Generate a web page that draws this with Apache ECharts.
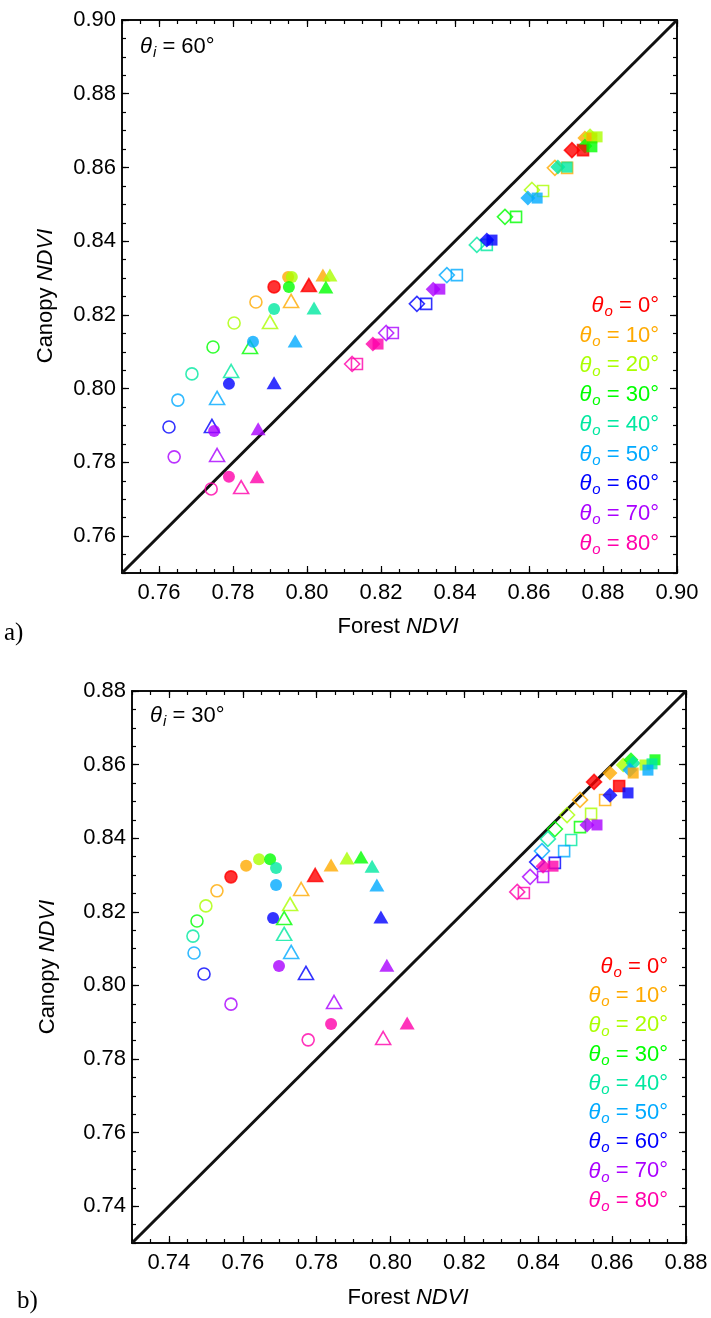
<!DOCTYPE html>
<html><head><meta charset="utf-8">
<script src="https://cdn.jsdelivr.net/npm/echarts@6/dist/echarts.min.js"></script>
<style>html,body{margin:0;padding:0;background:#fff}#c{width:711px;height:1318px}</style>
</head><body><div id="c"></div>
<script>
// ---------- data ----------
const angles = [0, 10, 20, 30, 40, 50, 60, 70, 80];
const colors = ['#ff0000', '#ffaa00', '#aaff00', '#00ff00', '#00e8a0', '#00aaff', '#0000ff', '#aa00ff', '#ff00aa'];
const ticksA = [0.76, 0.78, 0.80, 0.82, 0.84, 0.86, 0.88, 0.90];
const ticksB = [0.74, 0.76, 0.78, 0.80, 0.82, 0.84, 0.86, 0.88];
const rangeA = [0.75, 0.90];
const rangeB = [0.73, 0.88];

// panel a (theta_i = 60)
const aFilledCircleX = [0.7911, 0.7949, 0.7959, 0.7951, 0.7911, 0.7854, 0.7789, 0.7749, 0.7789];
const aFilledCircleY = [0.8276, 0.8303, 0.8303, 0.8276, 0.8216, 0.8127, 0.8013, 0.7885, 0.7761];
const aOpenCircleX   = [0.7911, 0.7862, 0.7803, 0.7746, 0.7689, 0.7651, 0.7627, 0.7641, 0.7741];
const aOpenCircleY   = [0.8276, 0.8235, 0.8178, 0.8113, 0.8040, 0.7969, 0.7896, 0.7815, 0.7728];
const aFilledTriX    = [0.8005, 0.8043, 0.8062, 0.8051, 0.8019, 0.7968, 0.7911, 0.7868, 0.7865];
const aFilledTriY    = [0.8281, 0.8308, 0.8308, 0.8276, 0.8219, 0.8129, 0.8016, 0.7891, 0.7761];
const aOpenTriX      = [0.8005, 0.7957, 0.7900, 0.7846, 0.7795, 0.7757, 0.7743, 0.7757, 0.7822];
const aOpenTriY      = [0.8281, 0.8238, 0.8181, 0.8113, 0.8048, 0.7975, 0.7899, 0.7820, 0.7733];
const aFilledDiaX    = [0.8716, 0.8751, 0.8765, 0.8751, 0.8678, 0.8597, 0.8486, 0.8341, 0.8178];
const aFilledDiaY    = [0.8647, 0.8680, 0.8686, 0.8658, 0.8601, 0.8517, 0.8403, 0.8270, 0.8121];
const aFilledSqX     = [0.8746, 0.8770, 0.8784, 0.8770, 0.8703, 0.8622, 0.8500, 0.8359, 0.8192];
const aFilledSqY     = [0.8647, 0.8680, 0.8683, 0.8656, 0.8601, 0.8517, 0.8403, 0.8270, 0.8121];
const aOpenDiaX      = [0.8716, 0.8670, 0.8608, 0.8535, 0.8459, 0.8378, 0.8297, 0.8214, 0.8122];
const aOpenDiaY      = [0.8647, 0.8599, 0.8539, 0.8466, 0.8390, 0.8308, 0.8230, 0.8151, 0.8067];
const aOpenSqX       = [0.8746, 0.8703, 0.8638, 0.8565, 0.8486, 0.8405, 0.8322, 0.8232, 0.8135];
const aOpenSqY       = [0.8647, 0.8599, 0.8536, 0.8466, 0.8390, 0.8308, 0.8230, 0.8151, 0.8067];

// panel b (theta_i = 30)
const bFilledCircleX = [0.7568, 0.7609, 0.7644, 0.7674, 0.7690, 0.7690, 0.7682, 0.7698, 0.7839];
const bFilledCircleY = [0.8295, 0.8325, 0.8343, 0.8343, 0.8319, 0.8273, 0.8183, 0.8053, 0.7895];
const bOpenCircleX   = [0.7568, 0.7530, 0.7500, 0.7476, 0.7465, 0.7468, 0.7495, 0.7568, 0.7777];
const bOpenCircleY   = [0.8295, 0.8257, 0.8216, 0.8175, 0.8134, 0.8088, 0.8031, 0.7949, 0.7852];
const bFilledTriX    = [0.7796, 0.7839, 0.7882, 0.7920, 0.7950, 0.7963, 0.7974, 0.7990, 0.8045];
const bFilledTriY    = [0.8300, 0.8327, 0.8346, 0.8349, 0.8324, 0.8273, 0.8186, 0.8055, 0.7898];
const bOpenTriX      = [0.7796, 0.7758, 0.7728, 0.7712, 0.7712, 0.7731, 0.7771, 0.7847, 0.7980];
const bOpenTriY      = [0.8300, 0.8262, 0.8221, 0.8183, 0.8140, 0.8091, 0.8034, 0.7955, 0.7857];
const bFilledDiaX    = [0.8551, 0.8594, 0.8630, 0.8651, 0.8657, 0.8648, 0.8594, 0.8532, 0.8413];
const bFilledDiaY    = [0.8553, 0.8577, 0.8599, 0.8613, 0.8604, 0.8585, 0.8517, 0.8436, 0.8324];
const bFilledSqX     = [0.8619, 0.8657, 0.8689, 0.8716, 0.8708, 0.8697, 0.8643, 0.8559, 0.8440];
const bFilledSqY     = [0.8542, 0.8577, 0.8599, 0.8613, 0.8602, 0.8585, 0.8523, 0.8436, 0.8324];
const bOpenDiaX      = [0.8551, 0.8513, 0.8478, 0.8445, 0.8426, 0.8410, 0.8397, 0.8378, 0.8343];
const bOpenDiaY      = [0.8553, 0.8504, 0.8463, 0.8425, 0.8398, 0.8365, 0.8335, 0.8295, 0.8254];
const bOpenSqX       = [0.8619, 0.8581, 0.8543, 0.8513, 0.8489, 0.8470, 0.8445, 0.8413, 0.8361];
const bOpenSqY       = [0.8542, 0.8504, 0.8466, 0.8430, 0.8395, 0.8365, 0.8333, 0.8295, 0.8251];

// ---------- build ----------
const FONT = '"Liberation Sans", Arial, sans-serif';
function minorVals(r) {
  const out = [];
  for (let v = r[0]; v <= r[1] + 1e-9; v += 0.005) out.push(Math.round(v * 1000) / 1000);
  return out;
}
function axis(kind, g, pos, major, ticks, r) {
  const vals = major ? ticks : minorVals(r);
  return {
    type: 'value', gridIndex: g, position: pos, min: r[0], max: r[1],
    axisLine: { show: true, onZero: false, lineStyle: { color: '#000', width: 1.5 } },
    axisTick: { show: true, inside: true, length: major ? 7 : 4, customValues: vals, lineStyle: { color: '#000', width: 1.2 } },
    axisLabel: {
      show: major && (pos === 'bottom' || pos === 'left'), customValues: ticks,
      formatter: v => v.toFixed(2), color: '#000', fontFamily: FONT, fontSize: 22,
      margin: kind === 'x' ? 9 : 6
    },
    splitLine: { show: false }
  };
}
const xAxes = [], yAxes = [];
[[ticksA, rangeA], [ticksB, rangeB]].forEach(([t, r], g) => {
  xAxes.push(axis('x', g, 'bottom', true, t, r), axis('x', g, 'bottom', false, t, r),
             axis('x', g, 'top', true, t, r), axis('x', g, 'top', false, t, r));
  yAxes.push(axis('y', g, 'left', true, t, r), axis('y', g, 'left', false, t, r),
             axis('y', g, 'right', true, t, r), axis('y', g, 'right', false, t, r));
});

function pts(xs, ys, filled) {
  return xs.map((x, i) => ({
    value: [x, ys[i]],
    itemStyle: filled ? { color: colors[i] }
                      : { color: 'rgba(255,255,255,0)', borderColor: colors[i], borderWidth: 1.6 }
  }));
}
const shapes = {
  circle: ['circle', 12], tri: ['triangle', [15, 13]], dia: ['diamond', 15], sq: ['rect', 11]
};
function sc(g, xs, ys, shape, filled) {
  return {
    type: 'scatter', xAxisIndex: g * 4, yAxisIndex: g * 4, silent: true,
    symbol: shapes[shape][0], symbolSize: shapes[shape][1],
    z: filled ? 4 : 3, data: pts(xs, ys, filled)
  };
}
function diag(g, r) {
  return {
    type: 'line', xAxisIndex: g * 4, yAxisIndex: g * 4, silent: true, showSymbol: false, z: 2,
    lineStyle: { color: '#111', width: 3 }, data: [[r[0], r[0]], [r[1], r[1]]]
  };
}
const series = [
  diag(0, rangeA), diag(1, rangeB),
  sc(0, aOpenCircleX, aOpenCircleY, 'circle', false), sc(0, aOpenTriX, aOpenTriY, 'tri', false),
  sc(0, aOpenDiaX, aOpenDiaY, 'dia', false), sc(0, aOpenSqX, aOpenSqY, 'sq', false),
  sc(0, aFilledCircleX, aFilledCircleY, 'circle', true), sc(0, aFilledTriX, aFilledTriY, 'tri', true),
  sc(0, aFilledDiaX, aFilledDiaY, 'dia', true), sc(0, aFilledSqX, aFilledSqY, 'sq', true),
  sc(1, bOpenCircleX, bOpenCircleY, 'circle', false), sc(1, bOpenTriX, bOpenTriY, 'tri', false),
  sc(1, bOpenDiaX, bOpenDiaY, 'dia', false), sc(1, bOpenSqX, bOpenSqY, 'sq', false),
  sc(1, bFilledCircleX, bFilledCircleY, 'circle', true), sc(1, bFilledTriX, bFilledTriY, 'tri', true),
  sc(1, bFilledDiaX, bFilledDiaY, 'dia', true), sc(1, bFilledSqX, bFilledSqY, 'sq', true)
];

const richTheta = {
  t: { fontFamily: FONT, fontSize: 22, fontStyle: 'italic' },
  s: { fontFamily: FONT, fontSize: 15, fontStyle: 'italic', padding: [12, 0, 0, 1] },
  n: { fontFamily: FONT, fontSize: 22 }
};
function thetaText(x, y, sub, txt, color, align) {
  return {
    type: 'text', x: x, y: y, silent: true,
    style: { text: `{t|θ}{s|${sub}}{n| = ${txt}°}`, rich: richTheta, fill: color, align: align, verticalAlign: 'middle' }
  };
}
const graphics = [];
graphics.push(thetaText(140, 47, 'i', '60', '#000', 'left'));
graphics.push(thetaText(150, 716, 'i', '30', '#000', 'left'));
angles.forEach((a, k) => {
  graphics.push(thetaText(659, 306 + k * 29.7, 'o', String(a), colors[k], 'right'));
  graphics.push(thetaText(668, 967 + k * 29.2, 'o', String(a), colors[k], 'right'));
});
const richName = {
  n: { fontFamily: FONT, fontSize: 22 },
  i: { fontFamily: FONT, fontSize: 22, fontStyle: 'italic' }
};
function nameText(x, y, word, rot) {
  return {
    type: 'text', x: x, y: y, rotation: rot, silent: true,
    style: { text: `{n|${word} }{i|NDVI}`, rich: richName, fill: '#000', align: 'center', verticalAlign: 'middle' }
  };
}
graphics.push(nameText(398, 627, 'Forest', 0));
graphics.push(nameText(408, 1298, 'Forest', 0));
graphics.push(nameText(46, 296, 'Canopy', Math.PI / 2));
graphics.push(nameText(48, 967, 'Canopy', Math.PI / 2));
graphics.push({ type: 'text', x: 4, y: 633, silent: true,
  style: { text: 'a)', fontFamily: '"Liberation Serif", "Times New Roman", serif', fontSize: 25, fill: '#000', verticalAlign: 'middle' } });
graphics.push({ type: 'text', x: 17, y: 1301, silent: true,
  style: { text: 'b)', fontFamily: '"Liberation Serif", "Times New Roman", serif', fontSize: 25, fill: '#000', verticalAlign: 'middle' } });

const chart = echarts.init(document.getElementById('c'), null, { renderer: 'canvas' });
chart.setOption({
  animation: false,
  backgroundColor: '#fff',
  grid: [
    { left: 122, top: 20, width: 555, height: 553, containLabel: false },
    { left: 132, top: 691, width: 554, height: 552, containLabel: false }
  ],
  xAxis: xAxes,
  yAxis: yAxes,
  series: series,
  graphic: graphics
});
</script>
</body></html>
